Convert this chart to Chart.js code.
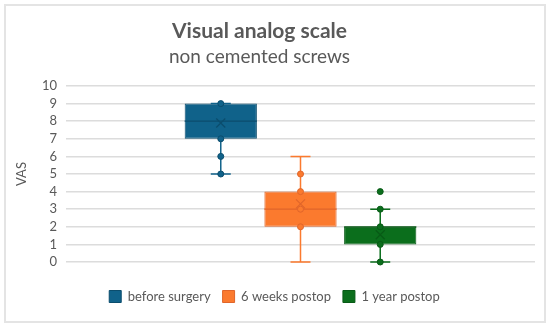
<!DOCTYPE html>
<html>
<head>
<meta charset="utf-8">
<script src="https://cdn.jsdelivr.net/npm/chart.js@4.4.1/dist/chart.umd.min.js"></script>
<style>
    body { margin: 0; background: #ffffff; }
    #wrap { position: relative; width: 550px; height: 329px; }
    #frame { position: absolute; left: 4px; top: 4px; width: 538px; height: 315px; border: 2px solid #e4e4e4; }
    #vasChart { position: absolute; left: 0; top: 0; }
</style>
</head>
<body>
<div id="wrap">
    <div id="frame"></div>
    <canvas id="vasChart" width="550" height="329"></canvas>
</div>
<script>
// données
const categories = ['before surgery', '6 weeks postop', '1 year postop'];
const q1Values = [7, 2, 1];
const q3Values = [9, 4, 2];
const medianValues = [8, 3, 2];
const meanValues = [7.9, 3.3, 1.55];
const whiskerLow = [5, 0, 0];
const whiskerHigh = [9, 6, 3];
const pointsBefore = [9, 7, 6, 5];
const points6Weeks = [5, 4, 3, 2];
const points1Year = [4, 3, 2, 1, 0];
const yTicks = [0, 1, 2, 3, 4, 5, 6, 7, 8, 9, 10];

const fillColors = ['#10628a', '#fb7a2e', '#0b6e1c'];
const lineColors = ['#0b4d6d', '#e0652a', '#085a16'];
const allPoints = [pointsBefore, points6Weeks, points1Year];

// décaler le titre et le sous-titre un peu vers la gauche (comme dans Excel)
const titleShift = {
    id: 'titleShift',
    afterLayout(chart) {
        chart.boxes.forEach(b => {
            if (b.position === 'top' && b.options && typeof b.options.text === 'string') {
                b.left -= 15;
                b.right -= 15;
            }
        });
    }
};

// plugin pour dessiner moustaches, médianes, moyennes et points
const boxPlotExtras = {
    id: 'boxPlotExtras',
    afterDatasetsDraw(chart) {
        const ctx = chart.ctx;
        const y = chart.scales.y;
        chart.data.datasets.forEach((ds, i) => {
            const bar = chart.getDatasetMeta(i).data[0];
            if (!bar) return;
            const x = bar.x;
            const half = bar.width / 2;
            ctx.save();
            ctx.strokeStyle = fillColors[i];
            ctx.lineWidth = 1.5;
            // moustaches
            ctx.beginPath();
            ctx.moveTo(x, y.getPixelForValue(whiskerLow[i]));
            ctx.lineTo(x, y.getPixelForValue(q1Values[i]));
            ctx.moveTo(x, y.getPixelForValue(q3Values[i]));
            ctx.lineTo(x, y.getPixelForValue(whiskerHigh[i]));
            ctx.stroke();
            // caps
            ctx.beginPath();
            [whiskerLow[i], whiskerHigh[i]].forEach(v => {
                const py = y.getPixelForValue(v);
                ctx.moveTo(x - 10, py);
                ctx.lineTo(x + 10, py);
            });
            ctx.stroke();
            // médiane
            ctx.strokeStyle = lineColors[i];
            ctx.lineWidth = 1.2;
            const my = y.getPixelForValue(medianValues[i]);
            ctx.beginPath();
            ctx.moveTo(x - half, my);
            ctx.lineTo(x + half, my);
            ctx.stroke();
            // moyenne (X)
            const ay = y.getPixelForValue(meanValues[i]);
            ctx.beginPath();
            ctx.moveTo(x - 4.5, ay - 4.5);
            ctx.lineTo(x + 4.5, ay + 4.5);
            ctx.moveTo(x + 4.5, ay - 4.5);
            ctx.lineTo(x - 4.5, ay + 4.5);
            ctx.stroke();
            // points
            ctx.fillStyle = fillColors[i];
            ctx.lineWidth = 1;
            allPoints[i].forEach(v => {
                ctx.beginPath();
                ctx.arc(x, y.getPixelForValue(v), 3, 0, Math.PI * 2);
                ctx.fill();
                ctx.stroke();
            });
            ctx.restore();
        });
    }
};

const ctx = document.getElementById('vasChart').getContext('2d');
const vasChart = new Chart(ctx, {
    type: 'bar',
    data: {
        labels: [''],
        datasets: categories.map((name, i) => ({
            label: name,
            data: [[q1Values[i], q3Values[i]]],
            backgroundColor: fillColors[i],
            borderColor: lineColors[i],
            borderWidth: 1,
            borderSkipped: false,
            categoryPercentage: 0.51,
            barPercentage: 0.906
        }))
    },
    options: {
        responsive: false,
        animation: false,
        layout: {
            padding: { left: 14, right: 15, top: 4, bottom: 16 }
        },
        plugins: {
            title: {
                display: true,
                text: 'Visual analog scale',
                color: '#595959',
                font: { family: 'Lato', size: 21, weight: 'bold' },
                padding: { top: 15, bottom: 0 }
            },
            subtitle: {
                display: true,
                text: 'non cemented screws',
                color: '#595959',
                font: { family: 'Lato', size: 19 },
                padding: { top: 1, bottom: 18 }
            },
            legend: {
                display: true,
                position: 'bottom',
                onClick: null,
                labels: {
                    color: '#595959',
                    font: { family: 'Lato', size: 13 },
                    boxWidth: 12,
                    boxHeight: 12,
                    padding: 12
                }
            },
            tooltip: { enabled: false }
        },
        scales: {
            x: {
                display: true,
                grid: { display: false },
                border: { display: false },
                ticks: { display: false },
                afterFit: axis => {
                    axis.height = 16;
                }
            },
            y: {
                min: 0,
                max: 10,
                afterBuildTicks: axis => {
                    axis.ticks = yTicks.map(v => ({ value: v }));
                },
                afterFit: axis => {
                    axis.width = 52;
                },
                border: { display: false },
                grid: {
                    color: '#dcdcdc',
                    lineWidth: 1.5,
                    drawTicks: false
                },
                ticks: {
                    color: '#595959',
                    font: { family: 'Lato', size: 13 },
                    padding: 9,
                    autoSkip: false
                },
                title: {
                    display: true,
                    text: 'VAS',
                    color: '#595959',
                    font: { family: 'Lato', size: 13 },
                    padding: { top: 0, bottom: 0, y: 3 }
                }
            }
        }
    },
    plugins: [titleShift, boxPlotExtras]
});
</script>
</body>
</html>
